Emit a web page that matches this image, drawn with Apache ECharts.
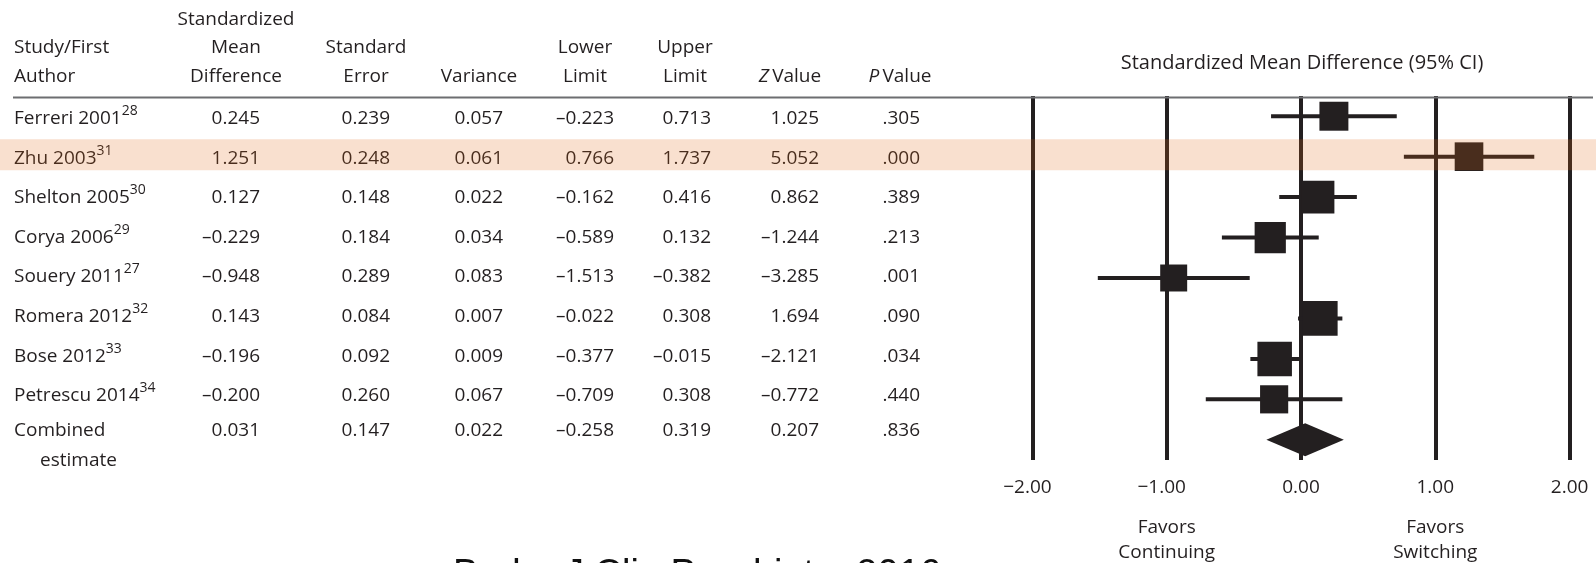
<!DOCTYPE html>
<html>
<head>
<meta charset="utf-8">
<script src="https://cdn.jsdelivr.net/npm/echarts@6/dist/echarts.min.js"></script>
<style>
  html, body { margin: 0; padding: 0; background: #ffffff; }
  #chart { width: 1596px; height: 563px; }
</style>
</head>
<body>
<div id="chart"></div>
<script>
// ---- Study-level results (standardized mean difference, switching vs continuing) ----
const studies   = ['Ferreri 2001', 'Zhu 2003', 'Shelton 2005', 'Corya 2006', 'Souery 2011', 'Romera 2012', 'Bose 2012', 'Petrescu 2014'];
const refs      = ['28', '31', '30', '29', '27', '32', '33', '34'];
const smd       = [0.245, 1.251, 0.127, -0.229, -0.948, 0.143, -0.196, -0.200];
const stdErr    = [0.239, 0.248, 0.148, 0.184, 0.289, 0.084, 0.092, 0.260];
const variance  = [0.057, 0.061, 0.022, 0.034, 0.083, 0.007, 0.009, 0.067];
const lowerLim  = [-0.223, 0.766, -0.162, -0.589, -1.513, -0.022, -0.377, -0.709];
const upperLim  = [0.713, 1.737, 0.416, 0.132, -0.382, 0.308, -0.015, 0.308];
const zValue    = [1.025, 5.052, 0.862, -1.244, -3.285, 1.694, -2.121, -0.772];
const pValue    = [0.305, 0.000, 0.389, 0.213, 0.001, 0.090, 0.034, 0.440];

// Pooled (random-effects) estimate: SMD, SE, variance, lower, upper, Z, P
const combinedLabel  = ['Combined', 'estimate'];
const combinedValues = [0.031, 0.147, 0.022, -0.258, 0.319, 0.207];
const combinedP      = 0.836;

const xTicks = [-2, -1, 0, 1, 2];
const favorLabels = ['Favors\nContinuing', 'Favors\nSwitching'];
const favorAt = [-1, 1];
const highlightStudy = 'Zhu 2003';
const citation = 'Bader J Clin Psychiatry 2016';

// ---- Styling / layout ----
const INK = '#231f20';
const FONT = '"Open Sans", "Noto Sans", sans-serif';
const FS = 19;
const BAND_FILL = 'rgba(226,104,21,0.205)';
const TAU2 = 0.135;           // between-study variance used for marker weights
const MARKER_BASE = 12.3;
const MARKER_GAIN = 3.2;
const DIAMOND_H = 33;
const NAME_X = 14;
const COL_RIGHT = [260, 390, 503, 614, 711, 819, 920];
const COL_CENTER = [236, 366, 479, 585, 685, 790, 900];
const HEADER_BOTTOM = 90.5;
const HEADER_LH = 28.5;

const rowNames = studies.concat([combinedLabel.join(' ')]);
const combinedRow = studies.length;

function fmt3(v) { return (v < 0 ? '\u2013' : '') + Math.abs(v).toFixed(3); }
function fmtP(v) { return v.toFixed(3).replace(/^0/, ''); }

function txt(text, x, y, align, extra) {
  return Object.assign({
    type: 'text',
    style: {
      text: text, x: x, y: y, align: align, verticalAlign: 'middle',
      fill: INK, fontSize: FS, fontFamily: FONT
    }
  }, extra || {});
}

// ---- Table rows ----
function renderTableRow(params, api) {
  const i = params.dataIndex;
  const cy = api.coord([0, i])[1];
  const children = [];
  let vals, p, y;
  if (i === combinedRow) {
    vals = combinedValues; p = combinedP; y = cy - 5;
    children.push(txt(combinedLabel[0], NAME_X, y, 'left'));
    children.push(txt(combinedLabel[1], NAME_X + 26, y + 30, 'left'));
  } else {
    vals = [smd[i], stdErr[i], variance[i], lowerLim[i], upperLim[i], zValue[i]];
    p = pValue[i]; y = cy;
    children.push({
      type: 'text',
      style: {
        text: '{n|' + studies[i] + '}{s|' + refs[i] + '}',
        x: NAME_X, y: y, align: 'left', verticalAlign: 'middle',
        fill: INK, fontSize: FS, fontFamily: FONT,
        rich: {
          n: { fill: INK, fontSize: FS, fontFamily: FONT, lineHeight: 24 },
          s: { fill: INK, fontSize: 14, fontFamily: FONT, lineHeight: 14, padding: [0, 0, 15, 0] }
        }
      }
    });
  }
  vals.forEach(function (v, k) { children.push(txt(fmt3(v), COL_RIGHT[k], y, 'right')); });
  children.push(txt(fmtP(p), COL_RIGHT[6], y, 'right'));
  return { type: 'group', children: children };
}

// ---- Forest plot marks ----
function renderForest(params, api) {
  const row = api.value(1);
  const c = api.coord([api.value(0), row]);
  const lo = api.coord([api.value(2), row]);
  const hi = api.coord([api.value(3), row]);
  if (api.value(5) === 1) {
    const h = DIAMOND_H / 2;
    return {
      type: 'polygon',
      shape: { points: [[lo[0], c[1]], [c[0], c[1] - h], [hi[0], c[1]], [c[0], c[1] + h]] },
      style: { fill: INK }
    };
  }
  const w = 1 / (api.value(4) + TAU2);
  const side = MARKER_BASE + MARKER_GAIN * w;
  return {
    type: 'group',
    children: [
      { type: 'line', shape: { x1: lo[0], y1: c[1], x2: hi[0], y2: c[1] }, style: { stroke: INK, lineWidth: 4 } },
      { type: 'rect', shape: { x: c[0] - side / 2, y: c[1] - side / 2, width: side, height: side }, style: { fill: INK } }
    ]
  };
}

// ---- Highlight band across the whole width ----
function renderBand(params, api) {
  const cy = api.coord([0, api.value(1)])[1];
  return {
    type: 'rect',
    shape: { x: 0, y: cy - 17.4, width: api.getWidth(), height: 31 },
    style: { fill: BAND_FILL }
  };
}

// ---- "Favors" captions under the axis ----
function renderFavor(params, api) {
  const x = api.coord([api.value(0), 0])[0];
  return {
    type: 'text',
    style: {
      text: favorLabels[params.dataIndex], x: x, y: 540, align: 'center', verticalAlign: 'middle',
      fill: INK, fontSize: FS, fontFamily: FONT, lineHeight: 25.6
    }
  };
}

const forestData = studies.map(function (s, i) {
  return [smd[i], i, lowerLim[i], upperLim[i], variance[i], 0];
}).concat([[combinedValues[0], combinedRow, combinedValues[3], combinedValues[4], combinedValues[2], 1]]);

// ---- Column headers ----
const headers = [
  { text: 'Study/First\nAuthor', x: NAME_X, align: 'left' },
  { text: 'Standardized\nMean\nDifference', x: COL_CENTER[0], align: 'center' },
  { text: 'Standard\nError', x: COL_CENTER[1], align: 'center' },
  { text: 'Variance', x: COL_CENTER[2], align: 'center' },
  { text: 'Lower\nLimit', x: COL_CENTER[3], align: 'center' },
  { text: 'Upper\nLimit', x: COL_CENTER[4], align: 'center' },
  { text: '{i|Z}\u2009Value', x: COL_CENTER[5], align: 'center' },
  { text: '{i|P}\u2009Value', x: COL_CENTER[6], align: 'center' }
];

const graphics = headers.map(function (h) {
  return {
    type: 'text',
    style: {
      text: h.text, x: h.x, y: HEADER_BOTTOM, align: h.align, verticalAlign: 'bottom',
      fill: INK, fontSize: FS, fontFamily: FONT, lineHeight: HEADER_LH,
      rich: { i: { fill: INK, fontSize: FS, fontFamily: FONT, fontStyle: 'italic', lineHeight: HEADER_LH } }
    }
  };
});
graphics.push({
  type: 'line', shape: { x1: 13, y1: 97.5, x2: 1593, y2: 97.5 },
  style: { stroke: '#6d6e71', lineWidth: 2 }, z: 5
});
graphics.push({
  type: 'text',
  style: {
    text: 'Standardized Mean Difference (95% CI)', x: 1302, y: 63, align: 'center', verticalAlign: 'middle',
    fill: INK, fontSize: 20, fontFamily: FONT
  }
});
graphics.push({
  type: 'text',
  style: {
    text: citation, x: 453, y: 576, align: 'left', verticalAlign: 'middle',
    fill: '#111111', fontSize: 38, fontFamily: '"Liberation Sans", Arial, sans-serif'
  }
});

const chart = echarts.init(document.getElementById('chart'), null, { renderer: 'canvas' });
chart.setOption({
  animation: false,
  backgroundColor: '#ffffff',
  grid: [
    { left: 0, right: 646, top: 98.7, bottom: 107.9, outerBoundsMode: 'none' },
    { left: 1032.4, right: 26.4, top: 96, bottom: 103, outerBoundsMode: 'none' }
  ],
  xAxis: [
    { gridIndex: 0, type: 'value', min: 0, max: 1, show: false },
    {
      gridIndex: 1, type: 'value', min: xTicks[0], max: xTicks[xTicks.length - 1], interval: 1,
      axisLine: { show: false }, axisTick: { show: false },
      splitLine: { show: true, showMinLine: true, showMaxLine: true, lineStyle: { color: INK, width: 4 } },
      axisLabel: {
        margin: 18, color: INK, fontSize: FS, fontFamily: FONT,
        formatter: function (v) {
          return v < 0 ? '\u2212' + Math.abs(v).toFixed(2) + '{p| }' : v.toFixed(2);
        },
        rich: { p: { width: 10, fontSize: FS } }
      }
    }
  ],
  yAxis: [
    { gridIndex: 0, type: 'category', data: rowNames, inverse: true, show: false },
    { gridIndex: 1, type: 'category', data: rowNames, inverse: true, show: false }
  ],
  graphic: graphics,
  series: [
    {
      type: 'custom', name: 'table', xAxisIndex: 0, yAxisIndex: 0, clip: false,
      data: rowNames.map(function (_, i) { return [0, i]; }),
      encode: { x: 0, y: 1 }, renderItem: renderTableRow, z: 2
    },
    {
      type: 'custom', name: 'forest', xAxisIndex: 1, yAxisIndex: 1, clip: false,
      data: forestData, encode: { x: 0, y: 1 }, renderItem: renderForest, z: 3
    },
    {
      type: 'custom', name: 'favors', xAxisIndex: 1, yAxisIndex: 1, clip: false,
      data: favorAt.map(function (v) { return [v, 0]; }), encode: { x: 0, y: 1 }, renderItem: renderFavor, z: 3
    },
    {
      type: 'custom', name: 'highlight', xAxisIndex: 1, yAxisIndex: 1, clip: false,
      data: [[0, studies.indexOf(highlightStudy)]], encode: { x: 0, y: 1 }, renderItem: renderBand, z: 10
    }
  ]
});
</script>
</body>
</html>
